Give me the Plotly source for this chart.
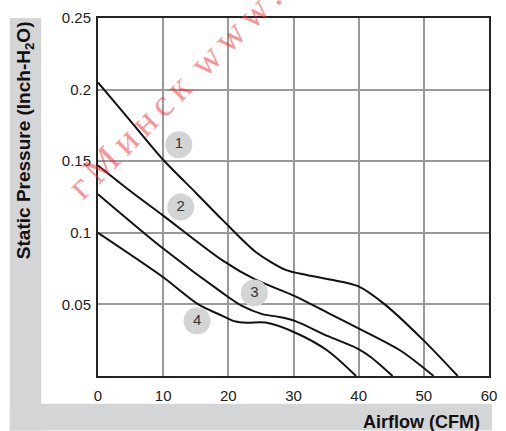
import plotly.graph_objects as go

# ---- data ----
cfm1 = [0, 5, 10, 15, 19.1, 24.1, 28.7, 32, 36.4, 39.9, 44, 50, 55.2]
p1 = [0.205, 0.178, 0.151, 0.128, 0.109, 0.087, 0.0743, 0.0705, 0.0667, 0.0627, 0.050, 0.0247, 0]

cfm2 = [0, 5, 10, 19.1, 24.1, 30.2, 35.2, 40.2, 46.4, 51.5]
p2 = [0.147, 0.129, 0.112, 0.0807, 0.0674, 0.0558, 0.0443, 0.0328, 0.0178, 0]

cfm3 = [0, 10, 19.1, 22.1, 25.2, 27.7, 30.2, 35.2, 39.9, 41.9, 45.2]
p3 = [0.127, 0.089, 0.058, 0.0489, 0.0432, 0.0413, 0.0385, 0.028, 0.019, 0.0131, 0]

cfm4 = [0, 10, 15.4, 19.1, 21.1, 23, 25.7, 30.2, 35.2, 39.6]
p4 = [0.1, 0.069, 0.05, 0.042, 0.038, 0.0372, 0.0373, 0.0304, 0.0178, 0]

label_names = ["1", "2", "3", "4"]
label_x = [12.4, 12.7, 24.0, 15.2]
label_y = [0.1615, 0.118, 0.058, 0.0385]

x_ticks = [0, 10, 20, 30, 40, 50, 60]
y_ticks = [0.05, 0.1, 0.15, 0.2, 0.25]
y_tick_text = ["0.05", "0.1", "0.15", "0.2", "0.25"]

FONT = "Liberation Sans, Arial, sans-serif"
GRAY = "#d4d5d7"

fig = go.Figure()

for xs, ys in [(cfm1, p1), (cfm2, p2), (cfm3, p3), (cfm4, p4)]:
    fig.add_trace(go.Scatter(
        x=xs, y=ys, mode="lines",
        line=dict(color="#111111", width=2, shape="spline", smoothing=0.8),
        showlegend=False, hoverinfo="skip"))

fig.add_trace(go.Scatter(
    x=label_x, y=label_y, mode="markers+text", text=label_names,
    textposition="middle center",
    textfont=dict(family=FONT, size=15, color="#333333"),
    marker=dict(size=27, color="#d3d4d6", line=dict(width=0)),
    showlegend=False, hoverinfo="skip"))

W, H = 506, 431
L, R, T, B = 98, 9, 14, 55
pw, ph = W - L - R, H - T - B

def px(xp):
    return (xp - L) / pw

def py(yp):
    return (H - B - yp) / ph

shapes = [
    dict(type="rect", xref="paper", yref="paper", layer="below",
         x0=px(8), x1=px(40), y0=py(431), y1=py(14),
         fillcolor=GRAY, line=dict(width=0)),
    dict(type="rect", xref="paper", yref="paper", layer="below",
         x0=px(8), x1=px(500), y0=py(431), y1=py(404),
         fillcolor=GRAY, line=dict(width=0)),
]

TS = "\u2006"
watermark = TS.join(list("гМинск")) + TS + " " + TS.join(list("www."))

annotations = [
    dict(text="<b>Static Pressure (Inch-H<sub>2</sub>O)</b>", xref="paper", yref="paper",
         x=px(23), y=py(138), textangle=-90, showarrow=False,
         xanchor="center", yanchor="middle",
         font=dict(family=FONT, size=19, color="#111111")),
    dict(text="<b>Airflow (CFM)</b>", xref="paper", yref="paper",
         x=px(490), y=py(423), showarrow=False, xanchor="right", yanchor="middle",
         font=dict(family=FONT, size=18, color="#111111")),
    dict(text=watermark, xref="paper", yref="paper",
         x=px(176), y=py(88), textangle=-45, showarrow=False,
         xanchor="center", yanchor="middle",
         font=dict(family="Liberation Serif, Times New Roman, serif", size=38,
                   color="rgba(240,45,45,0.5)")),
]

fig.update_layout(
    width=W, height=H,
    margin=dict(l=L, r=R, t=T, b=B),
    paper_bgcolor="white", plot_bgcolor="white",
    shapes=shapes, annotations=annotations,
    xaxis=dict(range=[0, 60], tickvals=x_ticks, showgrid=True,
               gridcolor="#9a9a9a", gridwidth=1.5, zeroline=False,
               showline=True, linecolor="#222222", linewidth=2, mirror=True,
               ticks="", ticklabelstandoff=5,
               tickfont=dict(family=FONT, size=15, color="#222222")),
    yaxis=dict(range=[0, 0.25], tickvals=y_ticks, ticktext=y_tick_text, showgrid=True,
               gridcolor="#9a9a9a", gridwidth=1.5, zeroline=False,
               showline=True, linecolor="#222222", linewidth=2, mirror=True,
               ticks="", ticklabelstandoff=2,
               tickfont=dict(family=FONT, size=15, color="#222222")),
)

fig.write_html("out.html", config={"displayModeBar": False},
               post_script="document.body.style.margin='0';")
